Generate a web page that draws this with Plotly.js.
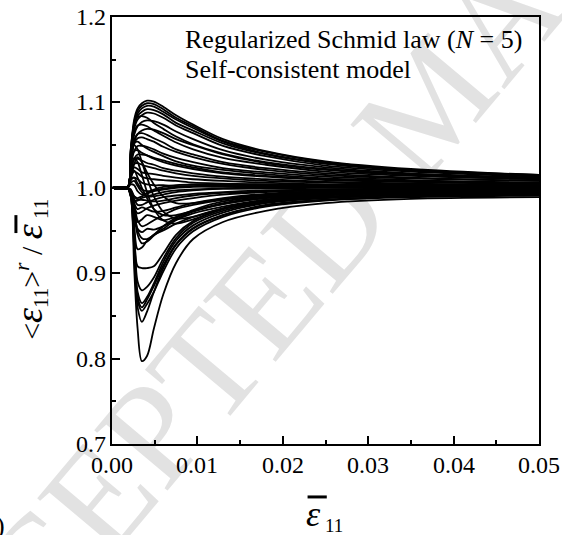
<!DOCTYPE html>
<html>
<head>
<meta charset="utf-8">
<script src="https://cdn.plot.ly/plotly-3.0.1.min.js"></script>
<style>
  html, body { margin: 0; padding: 0; background: #ffffff; }
  #wrap { position: relative; width: 562px; height: 535px; overflow: hidden; }
  #stamp {
    position: absolute; left: 0; top: 0; white-space: nowrap;
    font-family: 'Liberation Serif', serif;
    font-size: 145px; line-height: 1; color: #e2e2e2; z-index: 0;
    transform-origin: 0 0;
  }
  #chart { position: absolute; left: 0; top: 0; width: 562px; height: 535px; z-index: 1; }
</style>
</head>
<body>
<div id="wrap">
  <div id="stamp">ACCEPTED MANUSCRIPT</div>
  <div id="chart"></div>
</div>
<script>
// Macroscopic strain at which each grain response is sampled
const strainGrid = [0, 0.0018, 0.0022, 0.0026, 0.003, 0.0035, 0.0041, 0.0049, 0.006, 0.0075, 0.0095, 0.013, 0.018, 0.025, 0.035, 0.05];

// Grains straining more than the aggregate (overshoot then relax)
const upperCurves = [
  [1,1,1.045,1.080,1.093,1.099,1.102,1.101,1.095,1.085,1.074,1.057,1.043,1.031,1.022,1.015],
  [1,1,1.044,1.077,1.090,1.096,1.099,1.098,1.092,1.082,1.072,1.055,1.042,1.030,1.021,1.015],
  [1,1,1.042,1.075,1.087,1.093,1.096,1.095,1.089,1.080,1.070,1.054,1.040,1.029,1.021,1.014],
  [1,1,1.040,1.072,1.084,1.089,1.092,1.091,1.086,1.076,1.067,1.052,1.039,1.028,1.020,1.014],
  [1,1,1.039,1.069,1.080,1.085,1.088,1.087,1.082,1.073,1.064,1.049,1.037,1.026,1.019,1.013],
  [1,1,1.046,1.074,1.083,1.084,1.082,1.076,1.069,1.060,1.051,1.040,1.030,1.022,1.016,1.011],
  [1,1,1.035,1.062,1.072,1.077,1.079,1.078,1.074,1.066,1.057,1.044,1.033,1.024,1.017,1.012],
  [1,1,1.041,1.065,1.073,1.074,1.072,1.067,1.061,1.053,1.045,1.035,1.027,1.019,1.014,1.010],
  [1,1,1.030,1.054,1.063,1.067,1.069,1.068,1.064,1.057,1.050,1.039,1.029,1.021,1.015,1.010],
  [1,1,1.035,1.056,1.063,1.064,1.062,1.058,1.053,1.045,1.039,1.030,1.023,1.017,1.012,1.008],
  [1,1,1.032,1.052,1.058,1.059,1.057,1.054,1.048,1.042,1.036,1.028,1.021,1.015,1.011,1.008],
  [1,1,1.035,1.052,1.054,1.050,1.046,1.042,1.037,1.031,1.026,1.021,1.016,1.011,1.008,1.005],
  [1,1,1.027,1.043,1.049,1.049,1.048,1.045,1.040,1.035,1.030,1.023,1.018,1.013,1.009,1.006],
  [1,1,1.029,1.043,1.044,1.041,1.038,1.034,1.030,1.026,1.022,1.017,1.013,1.009,1.007,1.004],
  [1,1,1.021,1.034,1.039,1.039,1.038,1.035,1.032,1.028,1.024,1.018,1.014,1.010,1.007,1.005],
  [1,1,1.022,1.033,1.034,1.032,1.029,1.027,1.023,1.020,1.017,1.013,1.010,1.007,1.005,1.003],
  [1,1,1.019,1.028,1.029,1.027,1.025,1.023,1.020,1.017,1.014,1.011,1.008,1.006,1.004,1.003],
  [1,1,1.016,1.024,1.022,1.018,1.017,1.016,1.014,1.012,1.010,1.008,1.006,1.004,1.003,1.002],
  [1,1,1.013,1.019,1.017,1.013,1.011,1.010,1.009,1.008,1.006,1.005,1.004,1.003,1.002,1.001],
  [1,1,1.009,1.012,1.010,1.006,1.004,1.003,1.003,1.002,1.002,1.001,1.001,1.001,1.000,1.000]
];

// Grains that overshoot early, then fall below the aggregate before recovering
const crossingCurves = [
  [1,1,1.020,1.035,1.030,1.015,0.995,0.975,0.962,0.958,0.963,0.975,0.985,0.992,0.996,0.999],
  [1,1,1.030,1.050,1.045,1.030,1.012,0.990,0.972,0.964,0.966,0.976,0.986,0.993,0.997,0.999],
  [1,1,1.015,1.020,1.012,1.000,0.988,0.975,0.968,0.968,0.973,0.982,0.989,0.994,0.997,0.999],
  [1,1,1.010,1.028,1.036,1.030,1.018,1.004,0.990,0.982,0.982,0.987,0.992,0.996,0.998,0.999]
];

// Grains following the aggregate closely
const middleCurves = [
  [1,1,1.006,1.008,1.002,0.995,0.990,0.990,0.992,0.995,0.997,0.999,1.000,1.001,1.001,1.001],
  [1,1,0.995,0.990,0.988,0.990,0.993,0.996,0.998,1.000,1.001,1.002,1.002,1.002,1.002,1.002],
  [1,1,1.010,1.012,1.005,0.998,0.996,0.997,0.999,1.001,1.002,1.003,1.003,1.003,1.003,1.002],
  [1,1,0.990,0.985,0.985,0.988,0.990,0.992,0.995,0.997,0.998,0.999,0.999,1.000,1.000,1.000],
  [1,1,1.004,1.003,0.996,0.992,0.994,0.998,1.001,1.003,1.004,1.004,1.004,1.003,1.003,1.002]
];

// Grains lagging behind the aggregate (undershoot then recover)
const lowerCurves = [
  [1,1,0.990,0.905,0.835,0.797,0.803,0.835,0.875,0.912,0.940,0.960,0.973,0.982,0.987,0.989],
  [1,1,0.990,0.925,0.860,0.843,0.855,0.878,0.906,0.933,0.952,0.968,0.979,0.986,0.990,0.992],
  [1,1,0.990,0.930,0.868,0.856,0.864,0.878,0.902,0.929,0.949,0.966,0.978,0.985,0.989,0.991],
  [1,1,0.992,0.940,0.872,0.860,0.869,0.885,0.909,0.934,0.953,0.968,0.980,0.986,0.990,0.992],
  [1,1,0.993,0.945,0.878,0.865,0.872,0.888,0.913,0.938,0.956,0.971,0.982,0.988,0.991,0.993],
  [1,1,0.994,0.950,0.890,0.880,0.884,0.895,0.917,0.941,0.959,0.973,0.983,0.988,0.992,0.994],
  [1,1,0.993,0.945,0.908,0.906,0.906,0.908,0.923,0.945,0.961,0.975,0.984,0.989,0.993,0.995],
  [1,1,0.994,0.955,0.928,0.930,0.938,0.945,0.950,0.958,0.966,0.976,0.985,0.990,0.993,0.995],
  [1,1,0.995,0.970,0.945,0.935,0.937,0.944,0.952,0.962,0.970,0.978,0.986,0.991,0.994,0.996],
  [1,1,0.996,0.975,0.950,0.941,0.940,0.945,0.955,0.965,0.973,0.981,0.988,0.992,0.995,0.997],
  [1,1,0.995,0.970,0.952,0.948,0.952,0.951,0.955,0.963,0.972,0.981,0.988,0.993,0.996,0.997],
  [1,1,0.997,0.980,0.962,0.955,0.957,0.962,0.968,0.975,0.980,0.986,0.991,0.995,0.997,0.998],
  [1,1,0.996,0.975,0.960,0.963,0.968,0.966,0.962,0.966,0.974,0.984,0.990,0.994,0.996,0.998],
  [1,1,0.995,0.978,0.970,0.972,0.976,0.979,0.982,0.985,0.988,0.992,0.995,0.997,0.998,0.999],
  [1,1,0.996,0.982,0.975,0.977,0.975,0.972,0.973,0.977,0.982,0.988,0.993,0.996,0.998,0.999],
  [1,1,0.997,0.987,0.980,0.980,0.983,0.986,0.989,0.991,0.993,0.995,0.997,0.998,0.999,1.000],
  [1,1,0.998,0.990,0.986,0.986,0.985,0.984,0.985,0.988,0.991,0.994,0.996,0.998,0.999,1.000]
];

const xTickVals = [0, 0.01, 0.02, 0.03, 0.04, 0.05];
const xTickText = ['0.00', '0.01', '0.02', '0.03', '0.04', '0.05'];
const yTickVals = [0.7, 0.8, 0.9, 1.0, 1.1, 1.2];
const yTickText = ['0.7', '0.8', '0.9', '1.0', '1.1', '1.2'];

const serif = 'Liberation Serif';
const ink = '#000000';
const allCurves = [].concat(upperCurves, crossingCurves, middleCurves, lowerCurves);

const traces = allCurves.map(function (ys) {
  return {
    x: strainGrid, y: ys, type: 'scatter', mode: 'lines',
    line: { color: ink, width: 1.8, shape: 'spline', smoothing: 0.9 },
    hoverinfo: 'skip', showlegend: false
  };
});

function axisStyle(extra) {
  return Object.assign({
    showgrid: false, zeroline: false, showline: true, mirror: true,
    linecolor: ink, linewidth: 2,
    ticks: 'inside', ticklen: 8, tickwidth: 2, tickcolor: ink,
    showticklabels: false
  }, extra);
}

// Tick labels set in the serif face, placed on the axis scales
const tickLabelFont = { family: serif, size: 24, color: ink };
const xTickLabels = xTickVals.map(function (v, i) {
  return { xref: 'x', yref: 'paper', x: v, y: 0, yshift: -6, xanchor: 'center', yanchor: 'top',
    text: xTickText[i], showarrow: false, font: tickLabelFont };
});
const yTickLabels = yTickVals.map(function (v, i) {
  return { xref: 'paper', yref: 'y', x: 0, y: v, xshift: -4, xanchor: 'right', yanchor: 'middle',
    text: yTickText[i], showarrow: false, font: tickLabelFont };
});

const layout = {
  width: 562, height: 535,
  margin: { l: 112, r: 23, t: 17, b: 91 },
  paper_bgcolor: 'rgba(0,0,0,0)', plot_bgcolor: 'rgba(0,0,0,0)',
  showlegend: false,
  font: { family: serif, size: 23, color: ink },
  xaxis: axisStyle({
    range: [0, 0.05], tickvals: xTickVals,
    minor: { dtick: 0.005, ticks: 'inside', ticklen: 4, tickwidth: 2, tickcolor: ink }
  }),
  yaxis: axisStyle({
    range: [0.7, 1.2], tickvals: yTickVals,
    minor: { dtick: 0.05, ticks: 'inside', ticklen: 4, tickwidth: 2, tickcolor: ink }
  }),
  annotations: xTickLabels.concat(yTickLabels, [
    { xref: 'paper', yref: 'paper', x: 0.166, y: 0.948, xanchor: 'left', yanchor: 'middle',
      text: 'Regularized Schmid law (<i>N</i> = 5)', showarrow: false,
      font: { family: serif, size: 26, color: ink } },
    { xref: 'paper', yref: 'paper', x: 0.166, y: 0.878, xanchor: 'left', yanchor: 'middle',
      text: 'Self-consistent model', showarrow: false,
      font: { family: serif, size: 26, color: ink } },
    // x-axis title: averaged macroscopic strain
    { xref: 'paper', yref: 'paper', x: 0.497, y: -0.166, xanchor: 'center', yanchor: 'middle',
      text: '<span style="font-size:36px"><i>ε</i></span><sub> 11</sub>', showarrow: false,
      font: { family: serif, size: 27, color: ink } },
    // y-axis title: grain-averaged strain over macroscopic strain
    { xref: 'paper', yref: 'paper', x: -0.19, y: 0.41, xanchor: 'center', yanchor: 'middle',
      textangle: -90,
      text: '&lt;<span style="font-size:38px"><i>ε</i></span><sub>11</sub>&gt;<sup><i>r</i></sup> / <span style="font-size:38px"><i>ε</i></span><sub> 11</sub>',
      showarrow: false, font: { family: serif, size: 30, color: ink } },
    // panel label (closing bracket only, at the page edge)
    { xref: 'paper', yref: 'paper', x: -0.245, y: -0.19, xanchor: 'right', yanchor: 'middle',
      text: ')', showarrow: false, font: { family: serif, size: 26, color: ink } }
  ]),
  shapes: [
    // overbar on the x-axis title
    { type: 'line', xref: 'paper', yref: 'paper', x0: 0.458, x1: 0.503, y0: -0.124, y1: -0.124,
      line: { color: ink, width: 3 } },
    // overbar on the y-axis title denominator
    { type: 'line', xref: 'paper', yref: 'paper', x0: -0.225, x1: -0.225, y0: 0.494, y1: 0.536,
      line: { color: ink, width: 3 } }
  ]
};

Plotly.newPlot('chart', traces, layout, { displayModeBar: false, staticPlot: true });

// Diagonal stamp across the page
document.getElementById('stamp').style.transform = 'translate(-177px, 713px) rotate(-50deg)';
</script>
</body>
</html>
